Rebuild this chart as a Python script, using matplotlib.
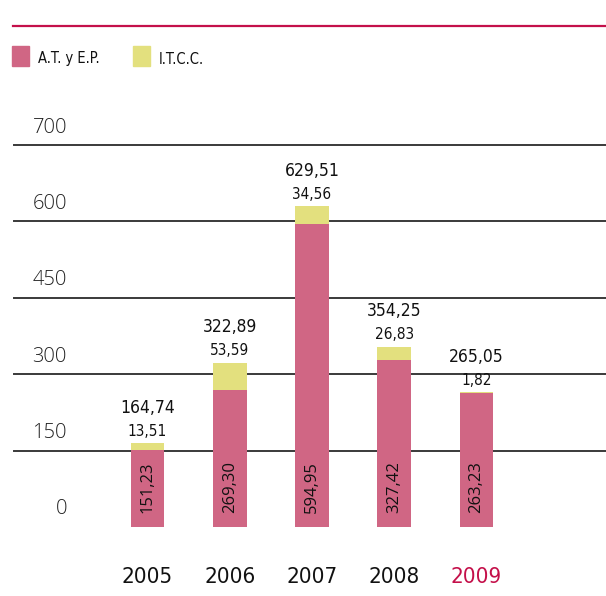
import matplotlib.pyplot as plt
from matplotlib import transforms

years = ['2005', '2006', '2007', '2008', '2009']
at_ep = [151.23, 269.30, 594.95, 327.42, 263.23]
itcc = [13.51, 53.59, 34.56, 26.83, 1.82]
totals = [164.74, 322.89, 629.51, 354.25, 265.05]
yticks = [0, 150, 300, 450, 600, 750]
ytick_labels = ['0', '150', '300', '450', '600', '700']

pink = '#D06684'
yellow = '#E3E07E'
crimson = '#C4104A'
narrow = ['DejaVu Sans']
light = ['Open Sans', 'DejaVu Sans']

def fmt(v):
    return ('%.2f' % v).replace('.', ',')

fig = plt.figure(figsize=(6.06, 5.96), dpi=100)
ax = fig.add_axes([0.0231, 0.1158, 0.9769, 0.6409])
ax.set_xlim(-1.623, 5.575)
ax.set_ylim(0, 750)
ax.axis('off')

for t in yticks[1:]:
    ax.axhline(t, color='#3a3a3a', lw=1.4, zorder=1, clip_on=False)

xs = list(range(len(years)))
ax.bar(xs, at_ep, width=0.41, color=pink, zorder=2)
ax.bar(xs, itcc, width=0.41, bottom=at_ep, color=yellow, zorder=2)

yt = transforms.blended_transform_factory(ax.transAxes, ax.transData)
for t, lab in zip(yticks, ytick_labels):
    ax.annotate(lab, (0.0895, t), xycoords=yt, xytext=(0, 9), textcoords='offset points',
                ha='right', va='baseline', fontsize=14.5, color='#222222',
                family=light, fontweight='light')

for i in xs:
    ax.text(i, 78, fmt(at_ep[i]), rotation=90, ha='center', va='center',
            fontsize=12, color='#111111', family=light, zorder=3)
    top = at_ep[i] + itcc[i]
    ax.annotate(fmt(itcc[i]), (i, top), xytext=(0, 3), textcoords='offset points',
                ha='center', va='bottom', fontsize=11, color='#111111',
                family=narrow, fontstretch='condensed')
    ax.annotate(fmt(totals[i]), (i, top), xytext=(0, 19), textcoords='offset points',
                ha='center', va='bottom', fontsize=12.5, color='#111111',
                family=narrow, fontstretch='condensed')

xt = transforms.blended_transform_factory(ax.transData, ax.transAxes)
for i, y in enumerate(years):
    c = crimson if y == '2009' else '#111111'
    ax.annotate(y, (i, 0), xycoords=xt, xytext=(0, -40), textcoords='offset points',
                ha='center', va='baseline', fontsize=16, color=c,
                family=narrow, fontstretch='condensed')

# header rule and legend
fig.add_artist(plt.Line2D([13 / 606, 1], [1 - 25.5 / 596] * 2, color=crimson, lw=1.6))
fig.patches.append(plt.Rectangle((12 / 606, 1 - 66 / 596), 17 / 606, 20 / 596,
                                 color=pink, transform=fig.transFigure, figure=fig))
fig.patches.append(plt.Rectangle((133 / 606, 1 - 66 / 596), 17 / 606, 20 / 596,
                                 color=yellow, transform=fig.transFigure, figure=fig))
fig.text(38 / 606, 1 - 59 / 596, 'A.T. y E.P.', va='center', ha='left', fontsize=10.5,
         color='#111111', family=narrow, fontstretch='condensed')
fig.text(159 / 606, 1 - 59 / 596, 'I.T.C.C.', va='center', ha='left', fontsize=10.5,
         color='#111111', family=narrow, fontstretch='condensed')

fig.savefig('out.png', dpi=100)
